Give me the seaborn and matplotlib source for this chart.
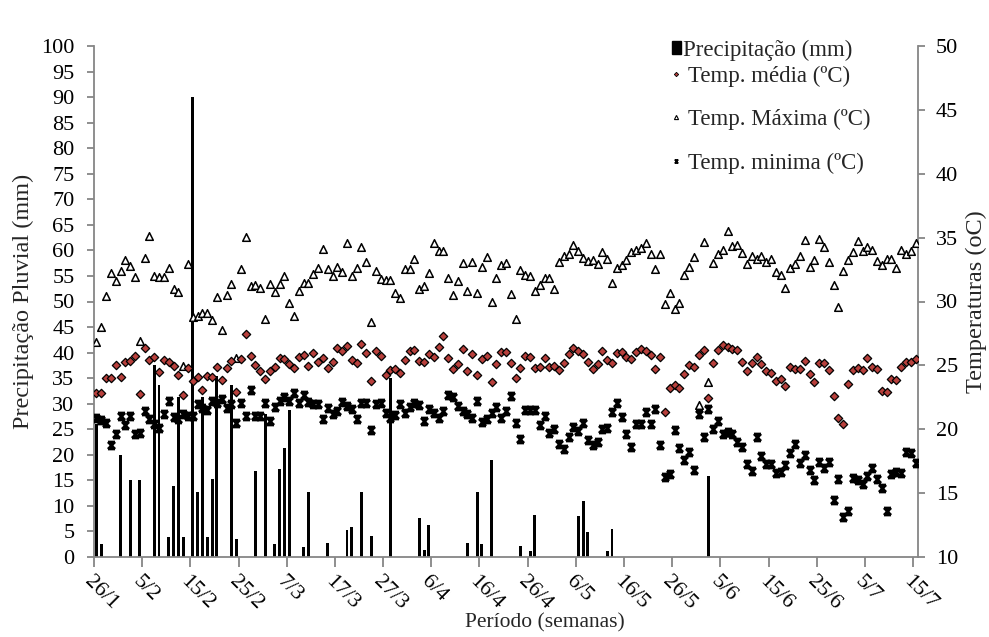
import matplotlib
matplotlib.use("Agg")
import matplotlib.pyplot as plt
import matplotlib.transforms as mtransforms
from matplotlib.path import Path
from matplotlib.lines import Line2D
from matplotlib.patches import Patch
import seaborn as sns
import numpy as np
import pandas as pd

sns.set_theme(style="white")
plt.rcParams['font.family'] = ['Liberation Serif', 'DejaVu Serif']

# ---------------- data ----------------
tick_labels = ["26/1", "5/2", "15/2", "25/2", "7/3", "17/3", "27/3", "6/4", "16/4",
               "26/4", "6/5", "16/5", "26/5", "5/6", "15/6", "25/6", "5/7", "15/7"]

rain_day = [0, 1, 5, 7, 9, 12, 13, 15, 16, 17, 18, 20, 21, 22, 23, 24, 25, 28, 29,
            33, 35, 37, 38, 39, 40, 43, 44, 48, 52, 53, 55, 57, 61, 67, 68, 69, 77,
            79, 80, 82, 88, 90, 91, 100, 101, 102, 106, 107, 127]
rain_mm = [26, 2.5, 20, 15, 15, 37.5, 33.7, 4, 13.8, 31.4, 4, 90, 12.7, 31.4, 4, 15.2,
           35.4, 33.7, 3.5, 16.9, 28, 2.5, 17.2, 21.3, 28.8, 1.9, 12.7, 2.8, 5.2, 5.9,
           12.7, 4.2, 35.1, 7.6, 1.4, 6.2, 2.8, 12.7, 2.5, 19, 2.2, 1.1, 8.3, 8.0, 10.9,
           4.8, 1.1, 5.4, 15.9]

t_media = [22.86, 22.86, 24.01, 24.04, 25.03, 24.12, 25.24, 25.34, 25.73, 22.76,
           26.39, 25.45, 25.68, 24.48, 25.42, 25.29, 24.95, 24.22, 22.68, 24.77,
           23.75, 24.12, 23.07, 24.14, 24.06, 24.85, 23.88, 24.77, 25.37, 22.89,
           25.47, 27.43, 25.73, 25.06, 24.53, 23.96, 24.53, 24.90, 25.60, 25.50,
           25.11, 24.82, 25.68, 25.84, 24.95, 25.94, 25.25, 25.60, 24.77, 25.25,
           26.33, 26.12, 26.52, 25.40, 25.19, 26.70, 25.94, 23.80, 26.10, 25.73,
           24.22, 24.64, 24.74, 24.43, 25.45, 26.10, 26.23, 25.32, 25.26, 25.86,
           25.68, 26.41, 27.33, 25.55, 24.72, 25.11, 26.26, 24.53, 25.89, 24.27,
           25.52, 25.73, 23.72, 25.11, 26.02, 26.08, 25.19, 23.99, 24.77, 25.71,
           25.63, 24.82, 24.90, 25.60, 24.87, 24.98, 24.61, 25.19, 25.89, 26.33,
           26.12, 25.86, 25.29, 24.69, 25.11, 26.15, 25.42, 25.19, 25.97, 26.02,
           25.68, 25.52, 26.02, 26.31, 26.12, 25.84, 24.72, 25.63, 21.35, 23.20,
           23.46, 23.20, 24.35, 25.03, 24.90, 25.81, 26.20, 22.42, 25.21, 26.20,
           26.59, 26.46, 26.26, 26.23, 25.29, 24.59, 25.16, 25.63, 25.08, 24.56,
           24.38, 23.78, 23.93, 23.39, 24.87, 24.74, 24.72, 25.34, 24.33, 23.72,
           25.21, 25.21, 24.61, 22.63, 20.85, 20.41, 23.54, 24.61, 24.82, 24.61,
           25.55, 24.87, 24.69, 23.02, 22.92, 23.91, 23.86, 24.85, 25.26, 25.24,
           25.47]

t_max = [26.86, 28.03, 30.46, 32.20, 31.63, 32.39, 33.22, 32.75, 31.94, 26.93,
         33.43, 35.13, 32.02, 31.94, 31.92, 32.62, 30.98, 30.72, 24.98, 32.94,
         28.81, 28.84, 29.10, 29.07, 28.55, 30.38, 27.75, 30.51, 31.37, 25.55,
         32.52, 35.05, 31.21, 31.27, 31.03, 28.66, 31.37, 30.72, 31.37, 31.97,
         29.90, 28.85, 30.82, 31.42, 31.42, 32.13, 32.65, 34.11, 32.52, 32.02,
         32.67, 32.31, 34.55, 32.00, 32.62, 34.29, 33.12, 28.37, 32.41, 31.76,
         31.66, 31.66, 30.67, 30.30, 32.54, 32.57, 33.35, 30.95, 31.19, 32.23,
         34.61, 33.95, 33.93, 31.81, 30.48, 31.63, 33.01, 30.82, 33.12, 30.64,
         32.67, 33.51, 29.96, 31.81, 32.83, 33.01, 30.59, 28.66, 32.47, 32.10,
         32.00, 30.80, 31.27, 31.81, 31.81, 30.98, 33.09, 33.56, 33.69, 34.42,
         33.98, 33.43, 33.17, 33.22, 32.95, 33.86, 33.31, 31.41, 32.65, 32.82,
         33.26, 33.84, 34.00, 34.17, 34.55, 33.72, 32.53, 33.69, 29.83, 30.70,
         29.43, 29.86, 32.07, 32.67, 33.46, 21.90, 34.66, 23.67, 33.04, 33.69,
         34.03, 35.55, 34.34, 34.42, 33.80, 32.94, 33.56, 33.30, 33.56, 33.09,
         33.33, 32.34, 32.10, 31.03, 32.65, 32.96, 33.56, 34.81, 32.67, 33.25,
         34.87, 34.29, 33.09, 31.29, 29.57, 32.39, 33.25, 33.87, 34.71, 33.98,
         34.27, 34.03, 33.17, 32.86, 33.35, 33.35, 32.62, 34.03, 33.69, 33.98,
         34.55]

t_min = [20.85, 20.72, 20.52, 18.77, 19.60, 21.04, 20.33, 21.04, 19.60, 19.73,
         21.43, 20.78, 20.44, 20.12, 21.17, 22.21, 20.98, 20.80, 21.19, 21.04,
         21.06, 22.00, 21.66, 21.48, 22.21, 22.08, 22.34, 21.69, 21.95, 20.46,
         22.03, 21.04, 23.07, 21.04, 21.04, 22.03, 20.67, 21.72, 22.21, 22.50,
         22.24, 22.86, 22.05, 22.71, 22.16, 21.95, 21.95, 20.80, 21.64, 21.17,
         21.43, 22.16, 21.82, 21.61, 20.80, 22.03, 22.03, 19.97, 21.98, 22.03,
         21.25, 20.91, 21.09, 21.98, 21.30, 21.77, 22.08, 21.92, 20.67, 21.56,
         21.25, 20.85, 21.43, 22.71, 22.55, 21.82, 21.46, 21.22, 20.88, 22.21,
         20.55, 20.81, 21.27, 21.72, 20.91, 21.43, 22.60, 20.46, 19.26, 21.51,
         21.51, 21.51, 20.31, 21.04, 19.68, 19.99, 18.85, 18.45, 19.42, 20.15,
         19.86, 20.46, 19.16, 18.79, 18.98, 20.02, 20.07, 21.38, 22.08, 20.98,
         19.60, 18.61, 20.38, 20.38, 21.38, 20.38, 21.61, 18.74, 16.23, 16.52,
         19.92, 18.53, 17.57, 18.19, 16.81, 21.19, 19.37, 21.56, 19.99, 20.67,
         19.60, 19.78, 19.63, 18.98, 18.58, 17.25, 16.76, 19.37, 17.91, 17.25,
         17.28, 16.55, 16.68, 17.20, 18.17, 18.85, 17.38, 18.01, 16.78, 16.03,
         17.41, 16.94, 17.41, 14.44, 16.08, 13.11, 13.63, 16.16, 16.03, 15.69,
         16.37, 16.99, 16.08, 15.43, 13.60, 16.52, 16.68, 16.60, 18.19, 18.17,
         17.38]

# ---------------- table ----------------
n = len(t_media)
days = np.arange(n)
precip = np.zeros(n)
precip[rain_day] = rain_mm
df = pd.DataFrame({"dia": days, "prec": precip,
                   "tmed": t_media, "tmax": t_max, "tmin": t_min})

GRAY = "#868686"
RED = "#B8403C"
FS_TICK = 16
FS_LEG = 16.5

fig = plt.figure(figsize=(9.89, 6.37), dpi=100)
ax = fig.add_axes([94 / 989, 80 / 637, 824 / 989, 511 / 637])

sns.barplot(data=df, x="dia", y="prec", color="black", saturation=1,
            width=0.6, linewidth=0, ax=ax, zorder=2)

ax2 = ax.twinx()
star = Path([(-1, 1), (1, 1), (-1, -1), (1, -1), (-1, 1), (1, -1), (-1, -1), (1, 1)],
            [Path.MOVETO, Path.LINETO, Path.MOVETO, Path.LINETO,
             Path.MOVETO, Path.LINETO, Path.MOVETO, Path.LINETO])

sns.scatterplot(data=df, x="dia", y="tmax", ax=ax2, marker="^", s=30,
                color="white", edgecolor="black", linewidth=1.1, zorder=3)
sns.scatterplot(data=df, x="dia", y="tmed", ax=ax2, marker="D", s=18,
                color=RED, edgecolor="black", linewidth=0.9, zorder=4)
sns.scatterplot(data=df, x="dia", y="tmin", ax=ax2, marker=star, s=26,
                color="black", edgecolor="black", linewidth=1.9, zorder=5)

# ---------------- axes ----------------
ax.set_xlim(-0.5, n - 0.5)
ax.set_ylim(0, 100)
ax.set_yticks(np.arange(0, 101, 5))
ax2.set_ylim(10, 50)
ax2.set_yticks(np.arange(10, 51, 5))

ticks_pos = np.arange(len(tick_labels)) * 10 - 0.5
ax.set_xticks(ticks_pos)
ax.set_xticklabels(tick_labels, rotation=-45, ha="left", va="top",
                   rotation_mode="anchor", fontsize=FS_TICK)
offset = mtransforms.ScaledTranslation(-6 / 100, -6 / 100, fig.dpi_scale_trans)
for lab in ax.get_xticklabels():
    lab.set_transform(lab.get_transform() + offset)

for a in (ax, ax2):
    for s in a.spines.values():
        s.set_visible(False)
ax.spines["left"].set_visible(True)
ax.spines["bottom"].set_visible(True)
ax2.spines["right"].set_visible(True)
for s in (ax.spines["left"], ax.spines["bottom"], ax2.spines["right"]):
    s.set_color(GRAY)
    s.set_linewidth(1.3)

ax.tick_params(axis="y", left=True, direction="out", length=5, width=1.3,
               color=GRAY, labelsize=FS_TICK, pad=9, labelcolor="black")
ax.tick_params(axis="x", bottom=True, direction="out", length=7, width=1.3,
               color=GRAY, pad=4, labelcolor="black")
ax2.tick_params(axis="y", right=True, direction="out", length=5, width=1.3,
                color=GRAY, labelsize=FS_TICK, pad=8, labelcolor="black")

ax.set_xlabel("Período (semanas)", fontsize=15.5)
ax.set_ylabel("Precipitação Pluvial (mm)", fontsize=17.5)
ax2.set_ylabel("Temperaturas (oC)", fontsize=17.5, rotation=90)
ax.xaxis.set_label_coords((545 - 94) / 824, (557 - 613) / 511)
ax.yaxis.set_label_coords((34 - 94) / 824, 0.5)
ax2.yaxis.set_label_coords((966 - 94) / 824, 0.5)
ax.grid(False)
ax2.grid(False)

# ---------------- legend ----------------
h1 = [Patch(facecolor="black", edgecolor="black", label="Precipitação (mm)")]
leg1 = fig.legend(handles=h1, loc="upper left",
                  bbox_to_anchor=(672 / 989, 1 - 39.5 / 637),
                  frameon=False, fontsize=FS_LEG, handlelength=0.38, handleheight=0.45,
                  handletextpad=0.12, borderpad=0, borderaxespad=0)
h2 = [Line2D([], [], ls="none", marker="D", ms=2.2, mfc=RED, mec="black",
             mew=0.6, label="Temp. média (ºC)"),
      Line2D([], [], ls="none", marker="^", ms=3, mfc="white", mec="black",
             mew=0.8, label="Temp. Máxima (ºC)"),
      Line2D([], [], ls="none", marker=star, ms=2.5, mfc="black", mec="black",
             mew=1.0, label="Temp. minima (ºC)")]
leg2 = fig.legend(handles=h2, loc="upper left",
                  bbox_to_anchor=(670 / 989, 1 - 65.5 / 637),
                  frameon=False, fontsize=FS_LEG, handlelength=0.5, handletextpad=0.28,
                  labelspacing=0.98, borderpad=0, borderaxespad=0)

fig.savefig("out.png", dpi=100)
